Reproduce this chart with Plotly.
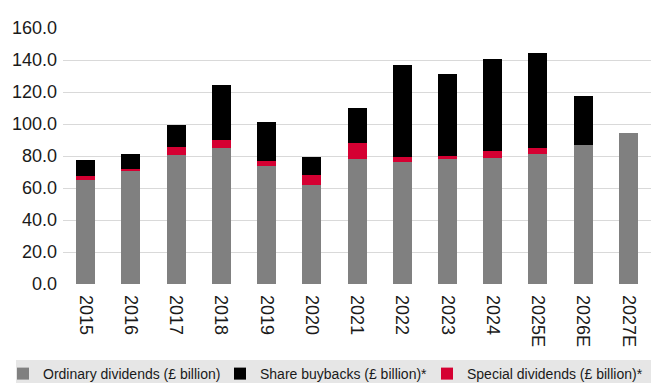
import plotly.graph_objects as go

years = ["2015", "2016", "2017", "2018", "2019", "2020", "2021", "2022",
         "2023", "2024", "2025E", "2026E", "2027E"]
ordinary = [65.2, 70.4, 80.8, 85.2, 73.9, 62.0, 78.3, 76.4, 78.3, 79.0, 81.5, 87.1, 94.6]
special = [2.5, 1.6, 5.0, 5.0, 3.2, 6.3, 10.0, 3.2, 1.9, 4.3, 3.7, None, None]
buybacks = [10.0, 9.4, 13.8, 34.4, 24.3, 11.3, 21.9, 57.5, 51.2, 57.5, 59.4, 30.6, None]

FONT = "Liberation Sans, Arial, sans-serif"

fig = go.Figure()
fig.add_trace(go.Bar(x=years, y=ordinary, name="Ordinary dividends (£ billion)",
                     marker=dict(color="#808080", line=dict(width=0)), legend="legend"))
fig.add_trace(go.Bar(x=years, y=special, name="Special dividends (£ billion)*",
                     marker=dict(color="#d50032", line=dict(width=0)), legend="legend3"))
fig.add_trace(go.Bar(x=years, y=buybacks, name="Share buybacks (£ billion)*",
                     marker=dict(color="#000000", line=dict(width=0)), legend="legend2"))

W, H = 651, 383
ml, mr, mt, mb = 63, 0, 28, 99
pw, ph = W - ml - mr, H - mt - mb

def px_x(x):
    return (x - ml) / pw

def px_y(y):
    return (H - mb - y) / ph

leg_common = dict(orientation="h", bgcolor="rgba(0,0,0,0)", borderwidth=0,
                  font=dict(family=FONT, size=14, color="#1a1a1a"),
                  xanchor="left", yanchor="middle", y=px_y(374))

fig.update_layout(
    width=W, height=H,
    margin=dict(l=ml, r=mr, t=mt, b=mb, autoexpand=False),
    barmode="stack", bargap=0.58,
    plot_bgcolor="white", paper_bgcolor="white",
    font=dict(family=FONT, size=18, color="#1a1a1a"),
    showlegend=True,
    legend=dict(x=px_x(43 - 40), **leg_common),
    legend2=dict(x=px_x(260 - 40), **leg_common),
    legend3=dict(x=px_x(467 - 40), **leg_common),
    xaxis=dict(tickangle=90, showgrid=False, showline=False, ticks="",
               automargin=False, ticklabelstandoff=10,
               tickfont=dict(family=FONT, size=18, color="#1a1a1a")),
    yaxis=dict(range=[0, 160], dtick=20, tickformat=".1f", showgrid=True,
               gridcolor="#d9d9d9", gridwidth=1, zeroline=False, showline=False,
               automargin=False, ticklabelstandoff=5,
               ticks="", tickfont=dict(family=FONT, size=18, color="#1a1a1a")),
    shapes=[dict(type="rect", xref="paper", yref="paper",
                 x0=px_x(16), x1=px_x(660), y0=px_y(360), y1=px_y(390),
                 fillcolor="#e6e6e6", line=dict(width=0), layer="below")],
)

fig.write_html("out.html")
